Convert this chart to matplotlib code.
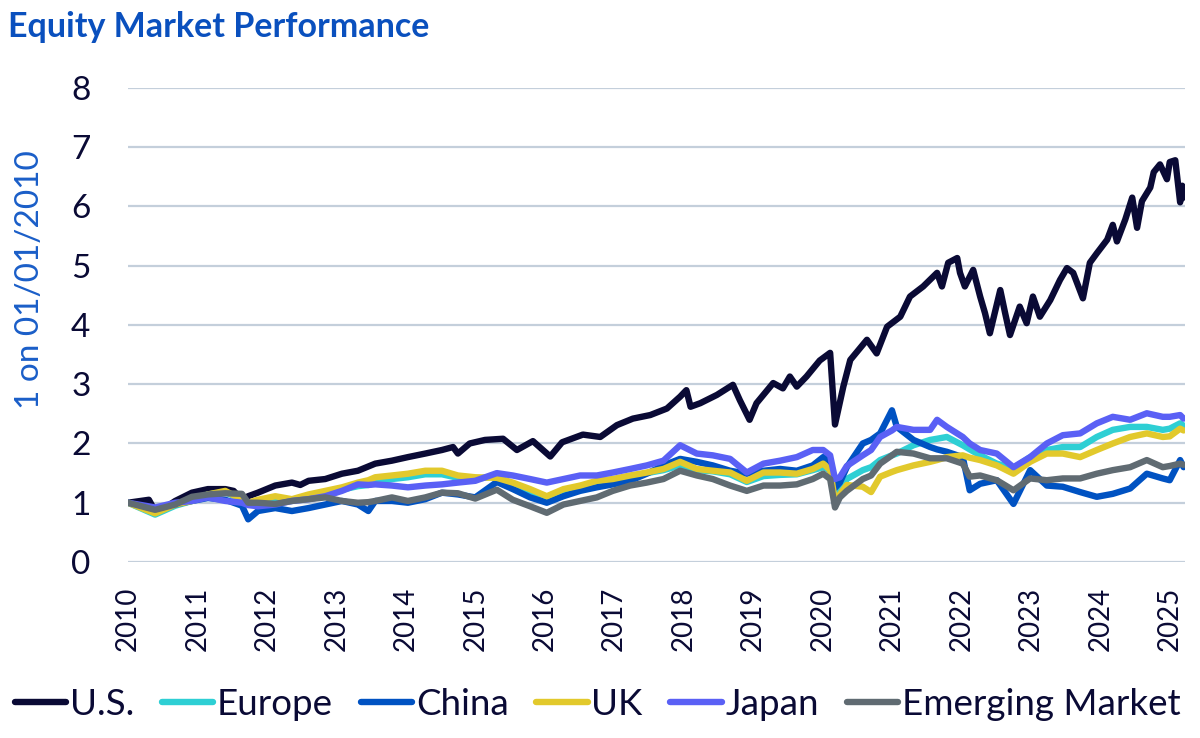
import matplotlib
matplotlib.use("Agg")
import matplotlib.pyplot as plt
import numpy as np

plt.rcParams['font.family'] = ['Lato', 'DejaVu Sans']

# U.S. index (decimal year, value)
us_dates = [2010.00, 2010.30, 2010.39, 2010.55, 2010.68, 2010.92, 2011.15, 2011.40, 2011.52, 2011.64,
            2011.73, 2011.87, 2012.12, 2012.36, 2012.48, 2012.60, 2012.84, 2013.08, 2013.31, 2013.56,
            2013.80, 2014.03, 2014.28, 2014.52, 2014.68, 2014.75, 2014.92, 2015.14, 2015.40, 2015.60,
            2015.83, 2016.08, 2016.25, 2016.55, 2016.80, 2017.04, 2017.27, 2017.52, 2017.76, 2017.95,
            2018.04, 2018.10, 2018.24, 2018.48, 2018.71, 2018.81, 2018.95, 2019.05, 2019.29, 2019.43,
            2019.53, 2019.63, 2019.77, 2019.96, 2020.11, 2020.18, 2020.30, 2020.40, 2020.64, 2020.78,
            2020.93, 2021.12, 2021.26, 2021.45, 2021.65, 2021.72, 2021.81, 2021.94, 2021.98, 2022.05,
            2022.17, 2022.27, 2022.34, 2022.41, 2022.56, 2022.63, 2022.70, 2022.84, 2022.94, 2023.03,
            2023.13, 2023.28, 2023.42, 2023.52, 2023.61, 2023.75, 2023.85, 2023.95, 2024.10, 2024.18,
            2024.24, 2024.36, 2024.46, 2024.53, 2024.60, 2024.72, 2024.77, 2024.86, 2024.96, 2025.00,
            2025.08, 2025.15, 2025.18, 2025.20]
us = [1.00, 1.05, 0.86, 0.93, 1.03, 1.17, 1.23, 1.23, 1.20, 1.05,
      1.11, 1.17, 1.29, 1.34, 1.30, 1.37, 1.40, 1.49, 1.54, 1.66,
      1.71, 1.77, 1.83, 1.89, 1.94, 1.83, 2.00, 2.06, 2.08, 1.89,
      2.04, 1.78, 2.02, 2.15, 2.11, 2.31, 2.42, 2.48, 2.59, 2.79,
      2.90, 2.62, 2.68, 2.82, 2.99, 2.73, 2.40, 2.68, 3.02, 2.93,
      3.13, 2.96, 3.13, 3.40, 3.53, 2.32, 2.96, 3.41, 3.75, 3.52,
      3.97, 4.14, 4.48, 4.65, 4.88, 4.65, 5.05, 5.13, 4.88, 4.65,
      4.93, 4.48, 4.20, 3.86, 4.59, 4.20, 3.83, 4.31, 4.03, 4.48,
      4.14, 4.42, 4.76, 4.96, 4.88, 4.45, 5.05, 5.21, 5.44, 5.69,
      5.41, 5.78, 6.15, 5.64, 6.09, 6.32, 6.58, 6.71, 6.46, 6.75,
      6.78, 6.07, 6.35, 6.15]

# other markets share one date list
dates = [2010.00, 2010.39, 2010.68, 2010.92, 2011.15, 2011.40, 2011.64, 2011.73, 2011.87, 2012.12,
         2012.36, 2012.60, 2012.84, 2013.08, 2013.31, 2013.46, 2013.56, 2013.80, 2014.03, 2014.28,
         2014.52, 2014.75, 2015.00, 2015.31, 2015.54, 2015.79, 2016.03, 2016.27, 2016.51, 2016.75,
         2016.98, 2017.23, 2017.47, 2017.71, 2017.95, 2018.19, 2018.42, 2018.67, 2018.91, 2019.15,
         2019.39, 2019.63, 2019.86, 2020.01, 2020.11, 2020.18, 2020.25, 2020.35, 2020.58, 2020.70,
         2020.83, 2021.00, 2021.07, 2021.31, 2021.55, 2021.65, 2021.79, 2022.02, 2022.12, 2022.27,
         2022.51, 2022.75, 2022.99, 2023.23, 2023.46, 2023.71, 2023.95, 2024.18, 2024.43, 2024.67,
         2024.90, 2025.00, 2025.15, 2025.20]
europe = [1.00, 0.80, 0.95, 1.03, 1.14, 1.18, 1.05, 0.98, 1.00, 1.05,
          1.03, 1.10, 1.15, 1.22, 1.28, 1.30, 1.33, 1.40, 1.43, 1.48,
          1.48, 1.42, 1.40, 1.45, 1.30, 1.20, 1.08, 1.18, 1.25, 1.32,
          1.36, 1.43, 1.50, 1.55, 1.63, 1.55, 1.53, 1.48, 1.35, 1.45,
          1.47, 1.48, 1.55, 1.60, 1.55, 1.05, 1.20, 1.40, 1.55, 1.60,
          1.72, 1.80, 1.83, 1.97, 2.06, 2.08, 2.11, 1.97, 1.90, 1.80,
          1.66, 1.58, 1.77, 1.89, 1.94, 1.94, 2.11, 2.23, 2.28, 2.28,
          2.23, 2.25, 2.34, 2.30]
china = [1.00, 0.88, 0.97, 1.03, 1.08, 1.05, 0.95, 0.72, 0.86, 0.91,
         0.86, 0.91, 0.97, 1.03, 0.97, 0.86, 1.03, 1.03, 1.00, 1.06,
         1.17, 1.14, 1.09, 1.35, 1.23, 1.09, 1.00, 1.11, 1.20, 1.26,
         1.31, 1.37, 1.49, 1.63, 1.74, 1.69, 1.63, 1.54, 1.49, 1.54,
         1.57, 1.54, 1.63, 1.77, 1.70, 1.25, 1.34, 1.60, 2.00, 2.06,
         2.17, 2.56, 2.28, 2.06, 1.94, 1.90, 1.86, 1.77, 1.21, 1.32,
         1.38, 0.98, 1.55, 1.29, 1.27, 1.18, 1.10, 1.15, 1.24, 1.49,
         1.41, 1.38, 1.72, 1.60]
uk = [1.00, 0.82, 0.97, 1.03, 1.14, 1.20, 1.05, 1.00, 1.05, 1.11,
      1.06, 1.14, 1.20, 1.26, 1.34, 1.38, 1.43, 1.46, 1.49, 1.54,
      1.54, 1.46, 1.43, 1.42, 1.34, 1.23, 1.11, 1.23, 1.29, 1.37,
      1.40, 1.46, 1.51, 1.57, 1.69, 1.57, 1.54, 1.51, 1.37, 1.51,
      1.51, 1.49, 1.57, 1.66, 1.55, 1.03, 1.14, 1.30, 1.27, 1.18,
      1.44, 1.52, 1.55, 1.63, 1.69, 1.72, 1.77, 1.80, 1.76, 1.72,
      1.63, 1.49, 1.69, 1.83, 1.83, 1.77, 1.89, 2.00, 2.11, 2.17,
      2.11, 2.12, 2.25, 2.22]
japan = [1.00, 0.92, 1.00, 1.03, 1.09, 1.03, 1.00, 0.96, 0.94, 0.97,
         1.03, 1.06, 1.11, 1.20, 1.31, 1.30, 1.31, 1.29, 1.26, 1.29,
         1.31, 1.34, 1.37, 1.50, 1.46, 1.40, 1.34, 1.40, 1.46, 1.46,
         1.51, 1.57, 1.63, 1.71, 1.97, 1.83, 1.80, 1.74, 1.51, 1.66,
         1.71, 1.77, 1.89, 1.89, 1.80, 1.40, 1.43, 1.62, 1.80, 1.89,
         2.11, 2.22, 2.28, 2.23, 2.23, 2.40, 2.28, 2.11, 2.00, 1.89,
         1.83, 1.60, 1.77, 2.00, 2.14, 2.17, 2.34, 2.45, 2.40, 2.51,
         2.45, 2.45, 2.48, 2.42]
emerging = [1.00, 0.88, 0.97, 1.10, 1.14, 1.16, 1.15, 1.00, 1.00, 0.98,
            1.03, 1.06, 1.09, 1.03, 1.00, 1.01, 1.03, 1.09, 1.03, 1.09,
            1.17, 1.16, 1.07, 1.22, 1.05, 0.94, 0.83, 0.97, 1.03, 1.09,
            1.20, 1.29, 1.34, 1.40, 1.54, 1.46, 1.40, 1.29, 1.20, 1.29,
            1.29, 1.31, 1.40, 1.49, 1.40, 0.92, 1.09, 1.20, 1.40, 1.46,
            1.66, 1.80, 1.86, 1.83, 1.75, 1.75, 1.75, 1.66, 1.44, 1.46,
            1.38, 1.21, 1.41, 1.38, 1.41, 1.41, 1.49, 1.55, 1.60, 1.72,
            1.60, 1.62, 1.66, 1.64]

years = list(range(2010, 2026))
navy = '#0a0a35'

fig = plt.figure(figsize=(12, 7.38), dpi=100)
ax = fig.add_axes([0.1067, 0.2385, 0.8808, 0.6423])

style = dict(lw=4.6, solid_joinstyle='round', solid_capstyle='round')
ax.plot(us_dates, us, color=navy, label='U.S.', **style)
ax.plot(dates, europe, color='#2ecfd4', label='Europe', **style)
ax.plot(dates, china, color='#0052c2', label='China', **style)
ax.plot(dates, uk, color='#e2c92c', label='UK', **style)
ax.plot(dates, japan, color='#5a60f5', label='Japan', **style)
ax.plot(dates, emerging, color='#606b72', label='Emerging Market', **style)

ax.set_xlim(2010, 2025.22)
ax.set_ylim(0, 8)
ax.set_yticks(range(0, 9))
ax.set_xticks(years)
ax.set_xticklabels([str(y) for y in years], rotation=90)
ax.grid(axis='y', color='#c4cfdb', lw=1.6)
ax.set_axisbelow(True)
for s in ax.spines.values():
    s.set_visible(False)
ax.tick_params(axis='both', length=0, colors=navy)
ax.tick_params(axis='x', labelsize=20, pad=18)
ax.tick_params(axis='y', labelsize=24, pad=27)

fig.text(8 / 1200, 1 - 27 / 738, 'Equity Market Performance', fontsize=24.5,
         fontweight='bold', color='#0a50be', va='center', ha='left')
fig.text(30 / 1200, 1 - 280 / 738, '1 on 01/01/2010', fontsize=24, color='#1a5ec8',
         rotation=90, va='center', ha='center')

fig.legend(loc='center', bbox_to_anchor=(0.498, 0.045), ncol=6, frameon=False,
           fontsize=26.5, handlelength=1.4, handletextpad=0.1, columnspacing=0.75,
           labelcolor=navy, borderaxespad=0)

fig.savefig('out.png', dpi=100)
